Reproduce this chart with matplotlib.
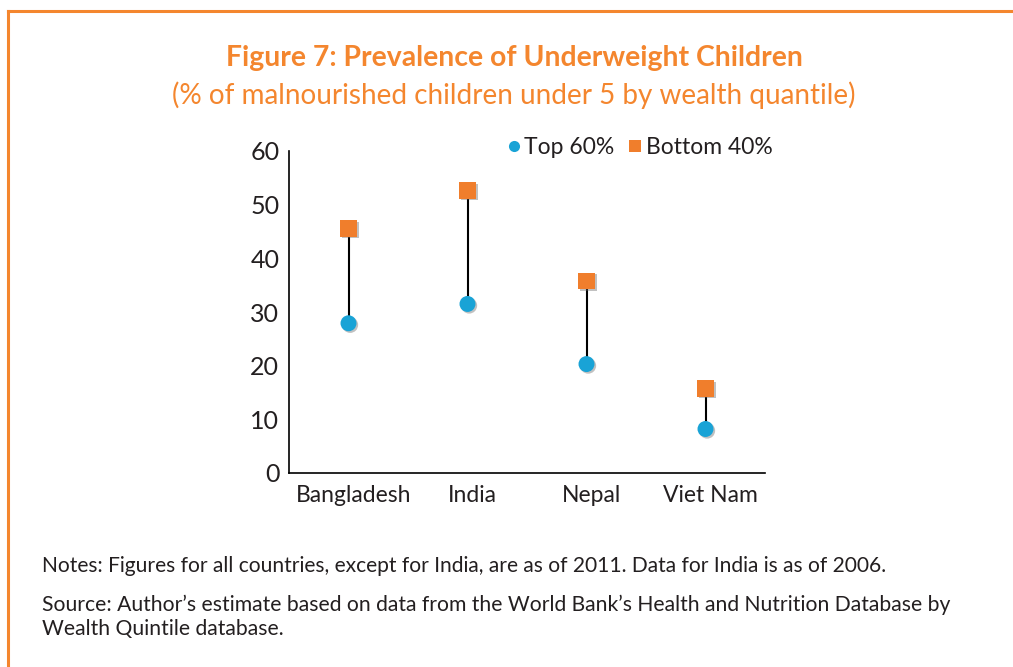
import matplotlib
matplotlib.use("Agg")
import matplotlib.pyplot as plt
import matplotlib.patheffects as pe
import matplotlib.transforms as mtransforms
from matplotlib.lines import Line2D
import numpy as np

countries = ["Bangladesh", "India", "Nepal", "Viet Nam"]
top60 = [27.9, 31.5, 20.3, 8.2]
bottom40 = [45.6, 52.7, 35.8, 15.8]
yticks = [0, 10, 20, 30, 40, 50, 60]

ORANGE = "#F4862E"
MARK_ORANGE = "#F07E2C"
BLUE = "#19A3D6"
TEXT = "#231F20"

plt.rcParams["font.family"] = ["Lato", "DejaVu Sans"]

fig = plt.figure(figsize=(10.13, 6.67), dpi=100)

# orange frame along the top and left edges
fig.add_artist(Line2D([0.0075, 1.0], [1 - 11 / 667, 1 - 11 / 667], color=ORANGE,
                      lw=2.2, transform=fig.transFigure))
fig.add_artist(Line2D([0.0075, 0.0075], [0.0, 1 - 11 / 667], color=ORANGE,
                      lw=2.2, transform=fig.transFigure))

ax = fig.add_axes([289 / 1013, 1 - 473 / 667, 476 / 1013, (473 - 151) / 667])

x = np.arange(len(countries))
for xi, lo, hi in zip(x, top60, bottom40):
    ax.plot([xi, xi], [lo, hi], color="black", lw=1.5, zorder=2)

shadow = [pe.SimplePatchShadow(offset=(1.2, -1.2), shadow_rgbFace="#666666", alpha=0.4),
          pe.Normal()]
ax.plot(x, top60, linestyle="none", marker="o", markersize=11.5, color=BLUE,
        markeredgewidth=0, zorder=3, path_effects=shadow)
ax.plot(x, bottom40, linestyle="none", marker="s", markersize=12, color=MARK_ORANGE,
        markeredgewidth=0, zorder=3, path_effects=shadow)

ax.set_xlim(-0.5, 3.5)
ax.set_ylim(0, 60)
ax.set_yticks(yticks)
ax.set_yticklabels([str(v) for v in yticks])
ax.set_xticks(x)
ax.set_xticklabels(countries)
ax.tick_params(axis="y", length=0, labelsize=18, colors=TEXT, pad=7)
ax.tick_params(axis="x", length=0, labelsize=16.5, colors=TEXT, pad=9)
# category labels sit a little right of their markers
shift = mtransforms.ScaledTranslation(5 / 100, 0, fig.dpi_scale_trans)
for lbl in ax.get_xticklabels():
    lbl.set_transform(lbl.get_transform() + shift)
for s in ["top", "right"]:
    ax.spines[s].set_visible(False)
for s in ["left", "bottom"]:
    ax.spines[s].set_color("black")
    ax.spines[s].set_linewidth(1.2)

handles = [
    Line2D([], [], linestyle="none", marker="o", markersize=8, color=BLUE, markeredgewidth=0),
    Line2D([], [], linestyle="none", marker="s", markersize=8, color=MARK_ORANGE, markeredgewidth=0),
]
fig.legend(handles, ["Top 60%", "Bottom 40%"], loc="center left",
           bbox_to_anchor=(497 / 1013, 1 - 148 / 667), ncol=2, frameon=False,
           fontsize=16.5, handlelength=0.5, handletextpad=0.2, columnspacing=0.65,
           borderpad=0, labelcolor=TEXT)

fig.text(514 / 1013, 1 - 58 / 667, "Figure 7: Prevalence of Underweight Children",
         ha="center", va="center", fontsize=20.4, fontweight="bold", color=ORANGE)
fig.text(514 / 1013, 1 - 95 / 667, "(% of malnourished children under 5 by wealth quantile)",
         ha="center", va="center", fontsize=20.1, color=ORANGE)

fig.text(42 / 1013, 1 - 566 / 667,
         "Notes: Figures for all countries, except for India, are as of 2011. Data for India is as of 2006.",
         ha="left", va="center", fontsize=15.1, color=TEXT)
fig.text(42 / 1013, 1 - 605 / 667,
         "Source: Author\u2019s estimate based on data from the World Bank\u2019s Health and Nutrition Database by",
         ha="left", va="center", fontsize=15.2, color=TEXT)
fig.text(42 / 1013, 1 - 629 / 667, "Wealth Quintile database.",
         ha="left", va="center", fontsize=15.2, color=TEXT)

fig.savefig("out.png", dpi=100)
